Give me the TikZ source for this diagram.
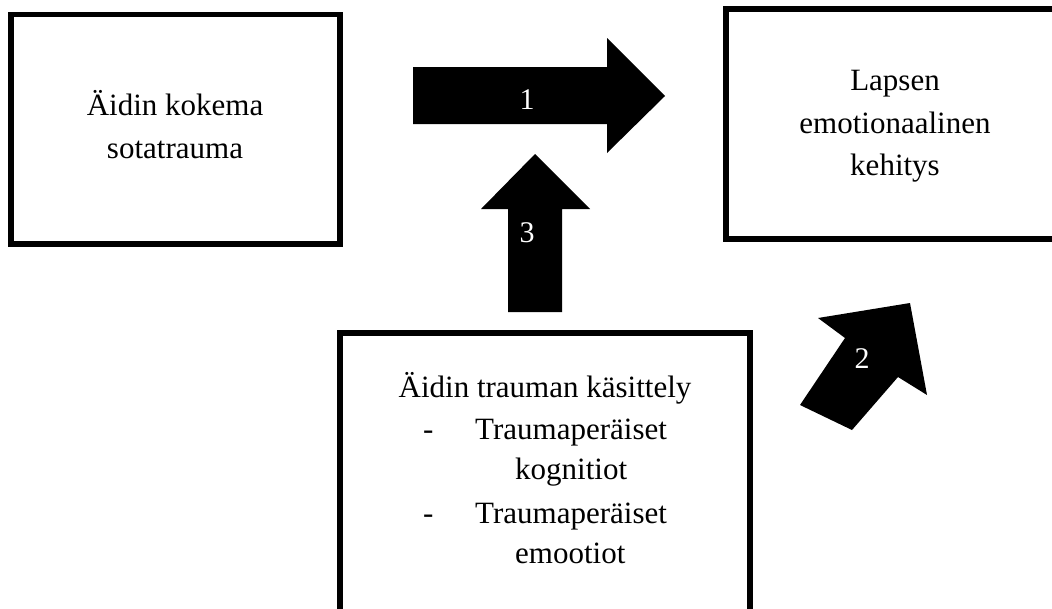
\documentclass[tikz,border=0pt]{standalone}
\usepackage{fontspec}
\setmainfont{Liberation Serif}
\begin{document}
\begin{tikzpicture}[x=1pt,y=-1pt,
  box/.style={draw=black,line width=5.5pt,fill=white,inner sep=0pt,outer sep=0pt},
  txt/.style={font=\fontsize{31}{42}\selectfont,inner sep=0pt,anchor=base},
  txtw/.style={font=\fontsize{31}{42}\selectfont,inner sep=0pt,anchor=base west},
  blockarrow/.style={fill=black,draw=none},
  num/.style={text=white,font=\fontsize{30}{36}\selectfont,inner sep=0pt}]
\useasboundingbox (0,0) rectangle (1052,608);
\clip (0,0) rectangle (1052,608);
\fill[white] (0,0) rectangle (1052,608);
% boxes
\node[box,minimum width=329pt,minimum height=229.5pt] (src) at (175.5,129.25) {};
\node[box,minimum width=338pt,minimum height=230pt] (dev) at (895,124) {};
\node[box,minimum width=410pt,minimum height=307pt] (proc) at (545,486.5) {};
% texts
\node[txt] (s1) at (175,115) {Äidin kokema};
\node[txt] (s2) at (175,158) {sotatrauma};
\node[txt] (d1) at (895,90) {Lapsen};
\node[txt] (d2) at (895,133) {emotionaalinen};
\node[txt] (d3) at (895,175) {kehitys};
\node[txt] (p1) at (545,397) {Äidin trauman käsittely};
\node[txtw] (p2a) at (423,439) {-};
\node[txtw] (p2b) at (475,439) {Traumaperäiset};
\node[txtw] (p3) at (515,479) {kognitiot};
\node[txtw] (p4a) at (423,523) {-};
\node[txtw] (p4b) at (475,523) {Traumaperäiset};
\node[txtw] (p5) at (515,563) {emootiot};
% block arrows
\fill[blockarrow] (413,67) -- (607,67) -- (607,38) -- (665,96) -- (607,153) -- (607,124) -- (413,124) -- cycle;
\node[num] (n1) at (527,100) {1};
\fill[blockarrow] (508,312) -- (508,209) -- (481,209) -- (535,154) -- (590,209) -- (562,209) -- (562,312) -- cycle;
\node[num] (n3) at (527,233) {3};
\fill[blockarrow] (800,405) -- (845,338) -- (818,318) -- (910,303) -- (927,395) -- (898,377) -- (852,430) -- cycle;
\node[num] (n2) at (862,359) {2};
\end{tikzpicture}
\end{document}
